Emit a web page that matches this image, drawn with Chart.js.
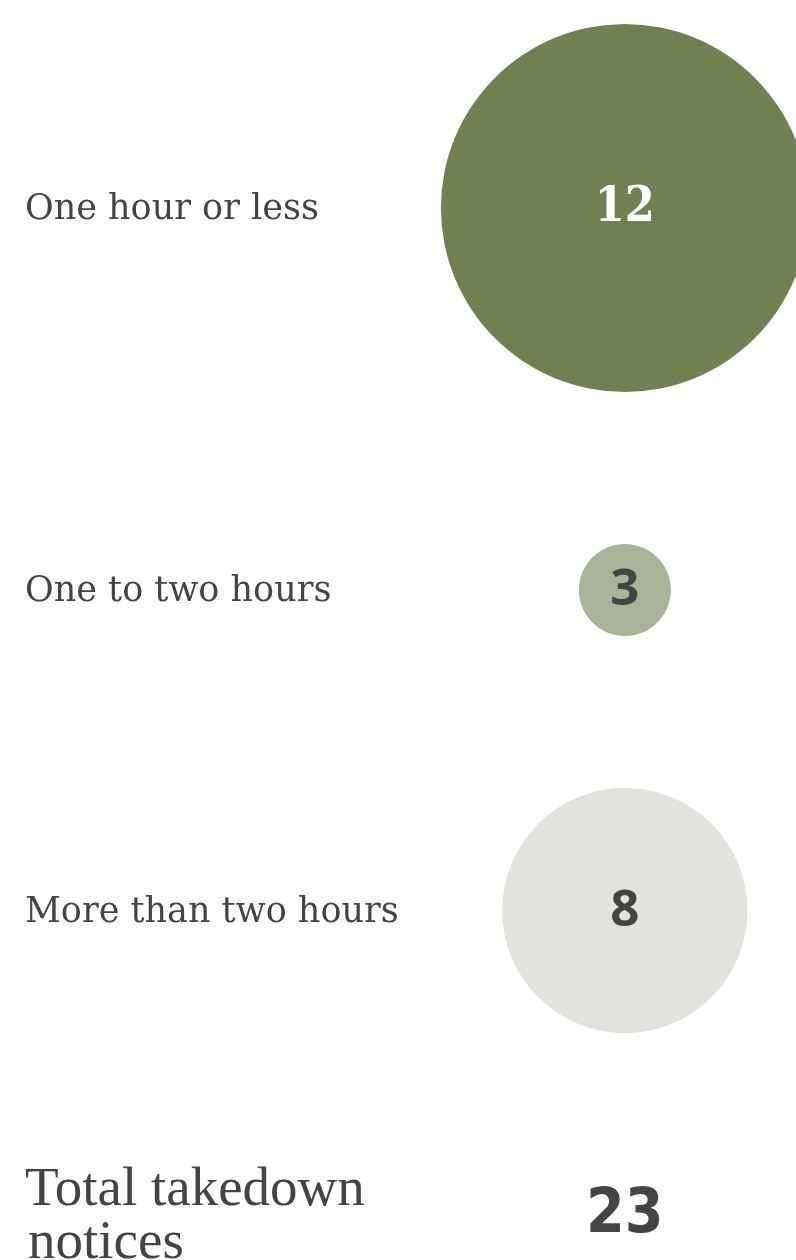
<!DOCTYPE html>
<html>
<head>
<meta charset="utf-8">
<script src="https://cdn.jsdelivr.net/npm/chart.js@4.4.0/dist/chart.umd.min.js"></script>
<style>
	html, body { margin: 0; padding: 0; background: #ffffff; }
	#chart { display: block; }
</style>
</head>
<body>
<canvas id="chart" width="796" height="1260"></canvas>
<script>
const categories = ['One hour or less', 'One to two hours', 'More than two hours'];
const notices = [12, 3, 8];
const totalLabel = ['Total takedown', 'notices'];
const totalNotices = 23;

const bubbleColors = ['#718052', '#a9b398', '#e1e4dc'];
const valueColors = ['#ffffff', '#444444', '#444444'];
const valueFonts = ['bold 48px "DejaVu Serif Condensed"', 'bold 51px "Open Sans"', 'bold 51px "Open Sans"'];

// pixels per notice (bubble radius grows linearly with the count)
const PX = 15.33;
const GAP = 152 / PX;
const TOP = 24 / PX;
const COLUMN_X = 78.5;

// stack rows: each bubble sits below the previous one with a fixed gap
function rowCenters() {
	const centers = [];
	let offset = 0;
	notices.forEach((n) => {
		centers.push(offset + n);
		offset += 2 * n + GAP;
	});
	return centers;
}

const centers = rowCenters();

const labelsPlugin = {
	id: 'rowLabels',
	afterDatasetsDraw(chart) {
		const ctx = chart.ctx;
		const yScale = chart.scales.y;
		const xScale = chart.scales.x;
		const cx = xScale.getPixelForValue(COLUMN_X);
		ctx.save();
		ctx.textBaseline = 'middle';
		categories.forEach((label, i) => {
			const cy = yScale.getPixelForValue(centers[i]);
			ctx.fillStyle = '#444444';
			ctx.textAlign = 'left';
			ctx.font = '35px "DejaVu Serif"';
			ctx.fillText(label, 25, cy + 2);
			ctx.fillStyle = valueColors[i];
			ctx.textAlign = 'center';
			ctx.font = valueFonts[i];
			ctx.fillText(String(notices[i]), cx, cy + 1);
		});

		// total row
		ctx.fillStyle = '#444444';
		ctx.textAlign = 'left';
		ctx.textBaseline = 'alphabetic';
		ctx.font = '55px "Liberation Serif"';
		ctx.fillText(totalLabel[0], 25, 1205);
		ctx.fillText(totalLabel[1], 28, 1258);
		ctx.textAlign = 'center';
		ctx.textBaseline = 'middle';
		ctx.font = 'bold 62px "DejaVu Sans Condensed"';
		ctx.fillText(String(totalNotices), cx, 1216);
		ctx.restore();
	}
};

new Chart(document.getElementById('chart'), {
	type: 'bubble',
	data: {
		datasets: [
			{
				data: notices.map((n, i) => ({ x: COLUMN_X, y: centers[i], r: n * PX })),
				backgroundColor: bubbleColors,
				borderWidth: 0,
				hoverBorderWidth: 0,
				clip: false
			}
		]
	},
	options: {
		responsive: false,
		animation: false,
		events: [],
		layout: { padding: 0, autoPadding: false },
		scales: {
			x: { type: 'linear', min: 0, max: 100, display: false },
			y: { type: 'linear', reverse: true, min: -TOP, max: 1260 / PX - TOP, display: false }
		},
		plugins: {
			legend: { display: false },
			tooltip: { enabled: false }
		}
	},
	plugins: [labelsPlugin]
});
</script>
</body>
</html>
